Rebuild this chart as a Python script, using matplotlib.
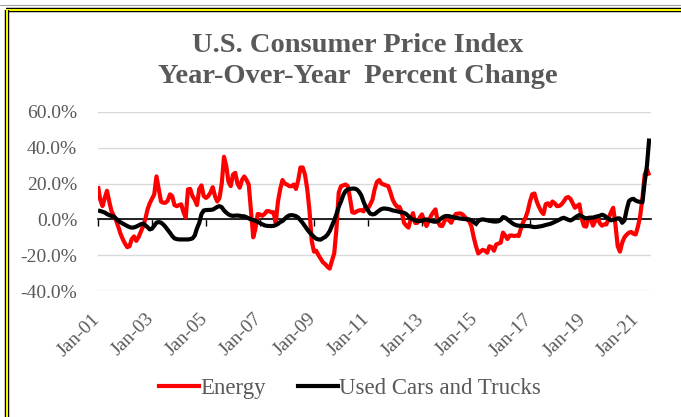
import numpy as np
import matplotlib
matplotlib.use("Agg")
import matplotlib.pyplot as plt
from matplotlib.lines import Line2D
from matplotlib.transforms import ScaledTranslation

# ---------------- data (monthly, Jan 2001 - Jun 2021, YoY % change) -------------
start_year = 2001
energy = [
    18.6, 11.0, 7.4, 12.0, 16.0, 10.0, 4.6, 2.0, -0.5, -4.0, -8.0, -11.0,      # 2001
    -13.5, -15.5, -15.0, -11.0, -9.5, -12.0, -10.0, -7.0, -4.0, 0.0, 5.5, 9.0,  # 2002
    11.5, 14.0, 24.0, 17.0, 10.0, 9.3, 9.3, 10.5, 14.0, 13.0, 8.0, 7.4,         # 2003
    8.0, 8.4, 4.0, 1.0, 16.8, 17.0, 13.0, 11.0, 8.0, 17.0, 19.0, 13.0,          # 2004
    12.0, 13.0, 15.0, 18.0, 13.0, 10.0, 12.0, 20.0, 35.0, 30.0, 21.0, 18.6,     # 2005
    25.0, 26.0, 20.0, 17.7, 22.0, 24.0, 22.0, 19.5, 5.0, -10.0, -5.0, 3.0,      # 2006
    2.8, 2.0, 3.0, 4.6, 4.6, 4.0, 4.0, -1.9, 10.0, 17.0, 22.0, 20.0,            # 2007
    19.5, 18.6, 18.5, 19.5, 17.0, 22.0, 29.0, 29.0, 25.0, 17.0, 5.0, -12.0,     # 2008
    -18.0, -17.5, -20.0, -22.0, -24.0, -25.0, -26.5, -27.5, -23.0, -19.0, -5.0, 15.0,  # 2009
    18.5, 19.0, 19.5, 18.6, 12.0, 4.0, 3.7, 4.5, 5.0, 5.2, 4.5, 7.0,            # 2010
    6.0, 8.4, 11.0, 17.0, 21.0, 22.0, 20.0, 19.5, 19.0, 18.6, 15.0, 11.0,       # 2011
    8.5, 7.0, 7.0, 4.0, -1.9, -3.5, -4.6, 0.0, 3.5, -2.0, -1.9, 1.0,            # 2012
    2.8, -1.0, -3.7, -1.0, 2.0, 4.0, 5.6, -1.0, -3.5, -3.7, -1.0, 0.9,          # 2013
    -0.5, -1.9, 1.0, 3.0, 3.2, 3.4, 2.8, 1.5, 0.0, -1.0, -4.0, -10.0,           # 2014
    -15.0, -19.0, -18.0, -17.0, -17.5, -18.6, -15.0, -15.5, -17.5, -14.0, -13.5, -13.0,  # 2015
    -7.4, -9.0, -11.0, -9.0, -9.0, -9.3, -9.0, -9.3, -5.0, -1.5, 0.9, 4.5,      # 2016
    10.0, 14.0, 14.5, 10.0, 7.0, 4.5, 3.0, 8.5, 9.0, 7.4, 10.0, 9.0,            # 2017
    7.4, 7.5, 8.4, 10.0, 12.0, 12.5, 11.5, 9.0, 6.5, 7.5, 8.4, 0.5,             # 2018
    -3.7, -4.0, 0.9, 0.5, -3.5, -1.0, 1.5, -2.0, -3.5, -2.8, -2.8, 0.9,         # 2019
    4.0, 6.5, -3.0, -15.0, -18.0, -13.0, -10.0, -8.5, -7.4, -7.0, -8.0, -8.4,   # 2020
    -4.0, 2.0, 12.0, 25.0, 28.0, 24.5,                                          # 2021
]
used_cars = [
    5.0, 4.7, 4.3, 3.8, 3.0, 2.4, 1.9, 1.6, 0.5, -0.8, -1.6, -2.3,              # 2001
    -3.0, -3.7, -4.3, -4.6, -4.5, -4.0, -3.4, -2.7, -2.4, -3.2, -4.3, -5.6,     # 2002
    -5.2, -3.5, -1.8, -1.5, -1.8, -2.8, -4.2, -5.8, -7.5, -9.3, -10.6, -11.0,   # 2003
    -11.2, -11.2, -11.2, -11.2, -11.2, -11.0, -10.6, -9.0, -5.0, -2.0, 3.0, 5.0,  # 2004
    5.2, 5.3, 5.3, 5.5, 6.2, 7.0, 7.4, 6.8, 5.0, 3.8, 2.8, 2.2,                 # 2005
    2.0, 2.1, 2.2, 2.0, 1.8, 1.7, 1.2, 0.6, 0.0, -0.4, -0.8, -1.4,              # 2006
    -2.0, -2.7, -3.3, -3.6, -3.7, -3.7, -3.6, -3.2, -2.5, -1.5, -0.9, 0.3,      # 2007
    1.5, 2.2, 2.4, 2.2, 1.8, 1.0, -0.5, -2.0, -3.8, -5.6, -7.2, -8.5,           # 2008
    -9.8, -10.8, -11.2, -11.3, -10.5, -9.8, -8.5, -6.5, -3.5, -0.5, 3.0, 7.0,   # 2009
    10.0, 13.5, 15.8, 16.8, 17.0, 17.2, 17.2, 16.8, 15.5, 13.5, 10.0, 7.0,      # 2010
    5.0, 3.2, 2.8, 3.0, 4.0, 5.0, 5.8, 6.1, 6.0, 5.8, 5.5, 5.0,                 # 2011
    4.8, 4.5, 4.2, 3.9, 3.7, 3.0, 1.8, 0.5, 0.0, -0.5, -0.9, -0.9,              # 2012
    -0.7, -0.3, 0.0, -0.4, -0.8, -1.2, -1.3, -1.0, 0.0, 1.0, 1.7, 1.9,          # 2013
    1.8, 1.5, 1.2, 0.9, 0.7, 0.5, 0.3, 0.2, 0.1, 0.0, -0.6, -1.5,               # 2014
    -2.5, -1.0, -0.2, 0.0, -0.2, -0.5, -0.8, -1.0, -1.2, -1.2, -1.0, -0.3,      # 2015
    1.3, 1.0, 0.0, -1.0, -2.0, -2.8, -3.3, -3.5, -3.6, -3.7, -3.7, -3.7,        # 2016
    -3.8, -4.1, -4.3, -4.2, -4.0, -3.8, -3.5, -3.1, -2.8, -2.5, -2.0, -1.4,     # 2017
    -0.8, -0.2, 0.5, 0.9, 0.4, -0.2, -0.6, 0.0, 1.0, 1.8, 2.4, 1.8,             # 2018
    1.0, 0.6, 0.8, 1.0, 1.0, 1.4, 1.7, 2.0, 2.6, 2.2, 1.2, 0.2,                 # 2019
    -0.5, -0.2, 0.0, 0.6, 0.5, -1.9, -0.5, 5.5, 10.2, 11.2, 11.5, 10.5,         # 2020
    10.0, 9.8, 9.6, 21.0, 30.0, 45.2,                                           # 2021
]
tick_labels = ["Jan-01", "Jan-03", "Jan-05", "Jan-07", "Jan-09", "Jan-11",
               "Jan-13", "Jan-15", "Jan-17", "Jan-19", "Jan-21"]
y_ticks = [-40, -20, 0, 20, 40, 60]
title = "U.S. Consumer Price Index\nYear-Over-Year  Percent Change"
series_names = ["Energy", "Used Cars and Trucks"]

# ---------------- figure ----------------
W, H = 681, 417
fig = plt.figure(figsize=(W / 100, H / 100), dpi=100)
fig.patch.set_facecolor("white")
SERIF = ["Liberation Serif", "DejaVu Serif"]
GRAY = "#595959"

def fx(px):
    return px / W

def fy(py):
    return 1 - py / H

ax = fig.add_axes([fx(98), fy(291), fx(651) - fx(98), fy(112) - fy(291)])
x = np.arange(len(energy))

ax.plot(x, energy, color="#ff0000", lw=3.0, solid_joinstyle="round",
        solid_capstyle="butt", zorder=3, label=series_names[0])
ax.plot(x, used_cars, color="black", lw=3.0, solid_joinstyle="round",
        solid_capstyle="butt", zorder=4, label=series_names[1])

ax.set_xlim(0, 245.8)
ax.set_ylim(-40, 60)

# gridlines
ax.set_yticks(y_ticks)
ax.yaxis.grid(True, color="#d9d9d9", lw=1.0)
ax.set_axisbelow(True)
ax.set_yticklabels([f"{v:.1f}%" for v in y_ticks], fontsize=14,
                   fontfamily=SERIF, color=GRAY)
ax.tick_params(axis="y", length=0, pad=15)

for s in ["top", "right", "left"]:
    ax.spines[s].set_visible(False)
ax.spines["bottom"].set_position(("data", 0))
ax.spines["bottom"].set_color("black")
ax.spines["bottom"].set_linewidth(1.2)
ax.spines["bottom"].set_zorder(2.5)

tick_pos = np.arange(0, len(energy), 24)
ax.set_xticks(tick_pos)
ax.tick_params(axis="x", direction="out", length=5, width=1.0, color="black",
               labelbottom=False)

sec = ax.secondary_xaxis("bottom")
sec.set_xticks(tick_pos)
sec.set_xticklabels(tick_labels, rotation=45, ha="right", va="top",
                    fontsize=14, fontfamily=SERIF, color=GRAY)
sec.tick_params(axis="x", length=0, pad=14)
sec.spines["bottom"].set_visible(False)
shift = ScaledTranslation(5 / 100, 0, fig.dpi_scale_trans)
for lbl in sec.get_xticklabels():
    lbl.set_rotation_mode("default")
    lbl.set_transform(lbl.get_transform() + shift)

# title
fig.text(fx(358), fy(61), title, ha="center", va="center", fontsize=20.5,
         fontweight="bold", fontfamily=SERIF, color=GRAY, linespacing=1.3)

# legend
handles = [Line2D([], [], color="#ff0000", lw=3.0),
           Line2D([], [], color="black", lw=3.0)]
leg = fig.legend(handles, series_names, loc="center", ncol=2,
                 bbox_to_anchor=(fx(350), fy(388)), frameon=False,
                 prop={"family": SERIF, "size": 16.5}, handlelength=1.75,
                 handletextpad=0.05, columnspacing=1.4)
for t in leg.get_texts():
    t.set_color(GRAY)

# outer frame (yellow with black edges)
for (xs, ys) in [((fx(6), 1.0), (fy(10), fy(10))),
                 ((fx(7), fx(7)), (fy(10), 0.0))]:
    fig.add_artist(Line2D(xs, ys, color="black", lw=3.2,
                          transform=fig.transFigure, solid_capstyle="butt"))
    fig.add_artist(Line2D(xs, ys, color="#ffff00", lw=1.4,
                          transform=fig.transFigure, solid_capstyle="butt"))
fig.add_artist(Line2D((0.0, 1.0), (fy(5), fy(5)), color="#a0a0a0", lw=0.8,
                      transform=fig.transFigure))

fig.savefig("out.png", dpi=100, facecolor="white")
